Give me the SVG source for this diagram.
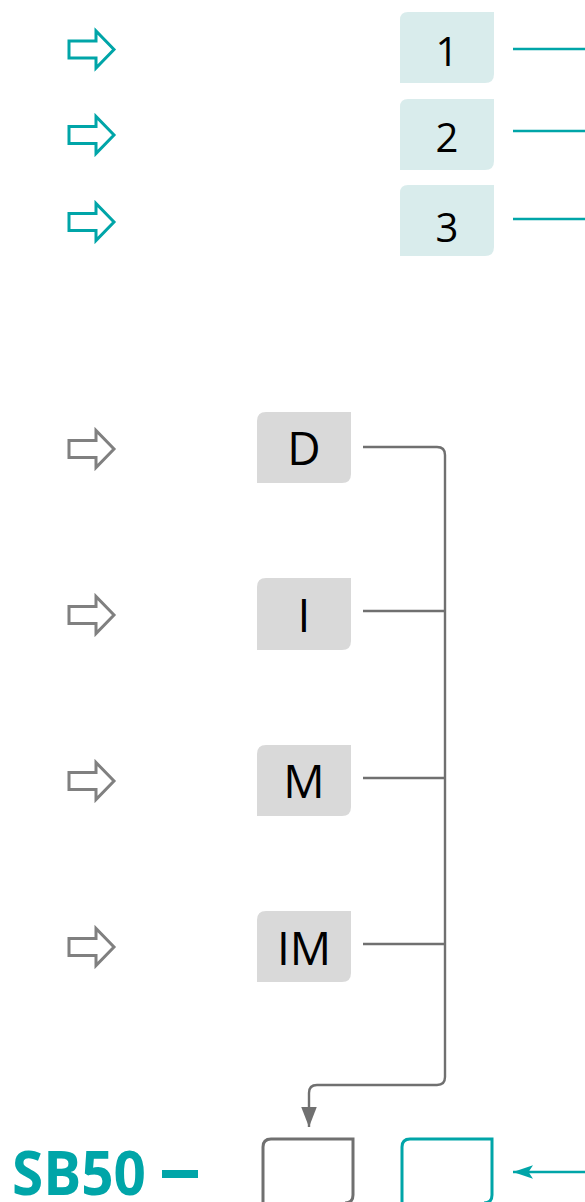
<svg xmlns="http://www.w3.org/2000/svg" width="585" height="1202" viewBox="0 0 585 1202">
<defs>
<style>
.tarrow{fill:#ffffff;stroke:#00a5a8;stroke-width:3;stroke-linejoin:miter}
.garrow{fill:#ffffff;stroke:#808080;stroke-width:3;stroke-linejoin:miter}
.tbox{fill:#d9ecec}
.gbox{fill:#d9d9d9}
.lbl{font-family:"Open Sans","Liberation Sans",sans-serif;fill:#000000;text-anchor:middle}
.num{font-size:40px}
.let{font-size:46px}
.tline{stroke:#00a5a8;stroke-width:2.4;fill:none}
.gline{stroke:#707070;stroke-width:2.4;fill:none}
</style>
<path id="blockarrow" d="M0,-8.5 H27 V-18.5 L45,0 L27,18.5 V8.5 H0 Z"/>
<marker id="gah" markerUnits="userSpaceOnUse" markerWidth="20" markerHeight="20" viewBox="0 0 18 14" refX="18" refY="7" orient="auto">
<path d="M0,0 L18,7 L0,14 Z" fill="#707070"/>
</marker>
<marker id="tah" markerUnits="userSpaceOnUse" markerWidth="20" markerHeight="14" viewBox="0 0 18 12" refX="18" refY="6" orient="auto">
<path d="M0,0 L18,6 L0,12 L4,6 Z" fill="#00a5a8"/>
</marker>
</defs>

<g id="input-arrows">
<use href="#blockarrow" class="tarrow" transform="translate(69,49.5)"/>
<use href="#blockarrow" class="tarrow" transform="translate(69,135)"/>
<use href="#blockarrow" class="tarrow" transform="translate(69,222)"/>
<use href="#blockarrow" class="garrow" transform="translate(69,449)"/>
<use href="#blockarrow" class="garrow" transform="translate(69,615)"/>
<use href="#blockarrow" class="garrow" transform="translate(69,781)"/>
<use href="#blockarrow" class="garrow" transform="translate(69,947)"/>
</g>

<g id="node-1">
<path class="tbox" d="M400,20 Q400,12 408,12 H494 V74 Q494,83 485,83 H400 Z"/>
<text class="lbl num" x="447" y="66">1</text>
</g>
<g id="node-2">
<path class="tbox" d="M400,107 Q400,99 408,99 H494 V161 Q494,170 485,170 H400 Z"/>
<text class="lbl num" x="447" y="152">2</text>
</g>
<g id="node-3">
<path class="tbox" d="M400,193 Q400,185 408,185 H494 V247 Q494,256 485,256 H400 Z"/>
<text class="lbl num" x="447" y="242">3</text>
</g>

<g id="node-D">
<path class="gbox" d="M257,421 Q257,412 266,412 H351 V474 Q351,483 342,483 H257 Z"/>
<text class="lbl let" x="304" y="465">D</text>
</g>
<g id="node-I">
<path class="gbox" d="M257,587 Q257,578 266,578 H351 V641 Q351,650 342,650 H257 Z"/>
<text class="lbl let" x="304" y="632">I</text>
</g>
<g id="node-M">
<path class="gbox" d="M257,754 Q257,745 266,745 H351 V807 Q351,816 342,816 H257 Z"/>
<text class="lbl let" x="304" y="798">M</text>
</g>
<g id="node-IM">
<path class="gbox" d="M257,920 Q257,911 266,911 H351 V973 Q351,982 342,982 H257 Z"/>
<text class="lbl let" x="304" y="965">IM</text>
</g>

<g id="node-SB50">
<text x="12" y="1195" font-family="'Open Sans','Liberation Sans',sans-serif" font-weight="bold" font-size="60" fill="#00a5a8" textLength="134" lengthAdjust="spacingAndGlyphs">SB50</text>
<rect x="162" y="1170" width="36" height="8" fill="#00a5a8"/>
</g>
<g id="node-box-gray">
<path d="M263,1203 V1147 Q263,1139 271,1139 H353 V1195 Q353,1203 345,1203" fill="none" stroke="#707070" stroke-width="3"/>
</g>
<g id="node-box-teal">
<path d="M402,1203 V1147 Q402,1139 410,1139 H492 V1195 Q492,1203 484,1203" fill="none" stroke="#00a5a8" stroke-width="3"/>
</g>

<g id="connectors">
<line class="tline" x1="513" y1="49" x2="585" y2="49"/>
<line class="tline" x1="513" y1="131" x2="585" y2="131"/>
<line class="tline" x1="513" y1="219" x2="585" y2="219"/>
<path class="gline" d="M363,447 H437 Q445,447 445,455 V1077 Q445,1085 437,1085 H317 Q309,1085 309,1093 V1127" marker-end="url(#gah)"/>
<line class="gline" x1="363" y1="611" x2="445" y2="611"/>
<line class="gline" x1="363" y1="778" x2="445" y2="778"/>
<line class="gline" x1="363" y1="944" x2="445" y2="944"/>
<line class="tline" x1="585" y1="1172" x2="513" y2="1172" marker-end="url(#tah)"/>
</g>
</svg>
